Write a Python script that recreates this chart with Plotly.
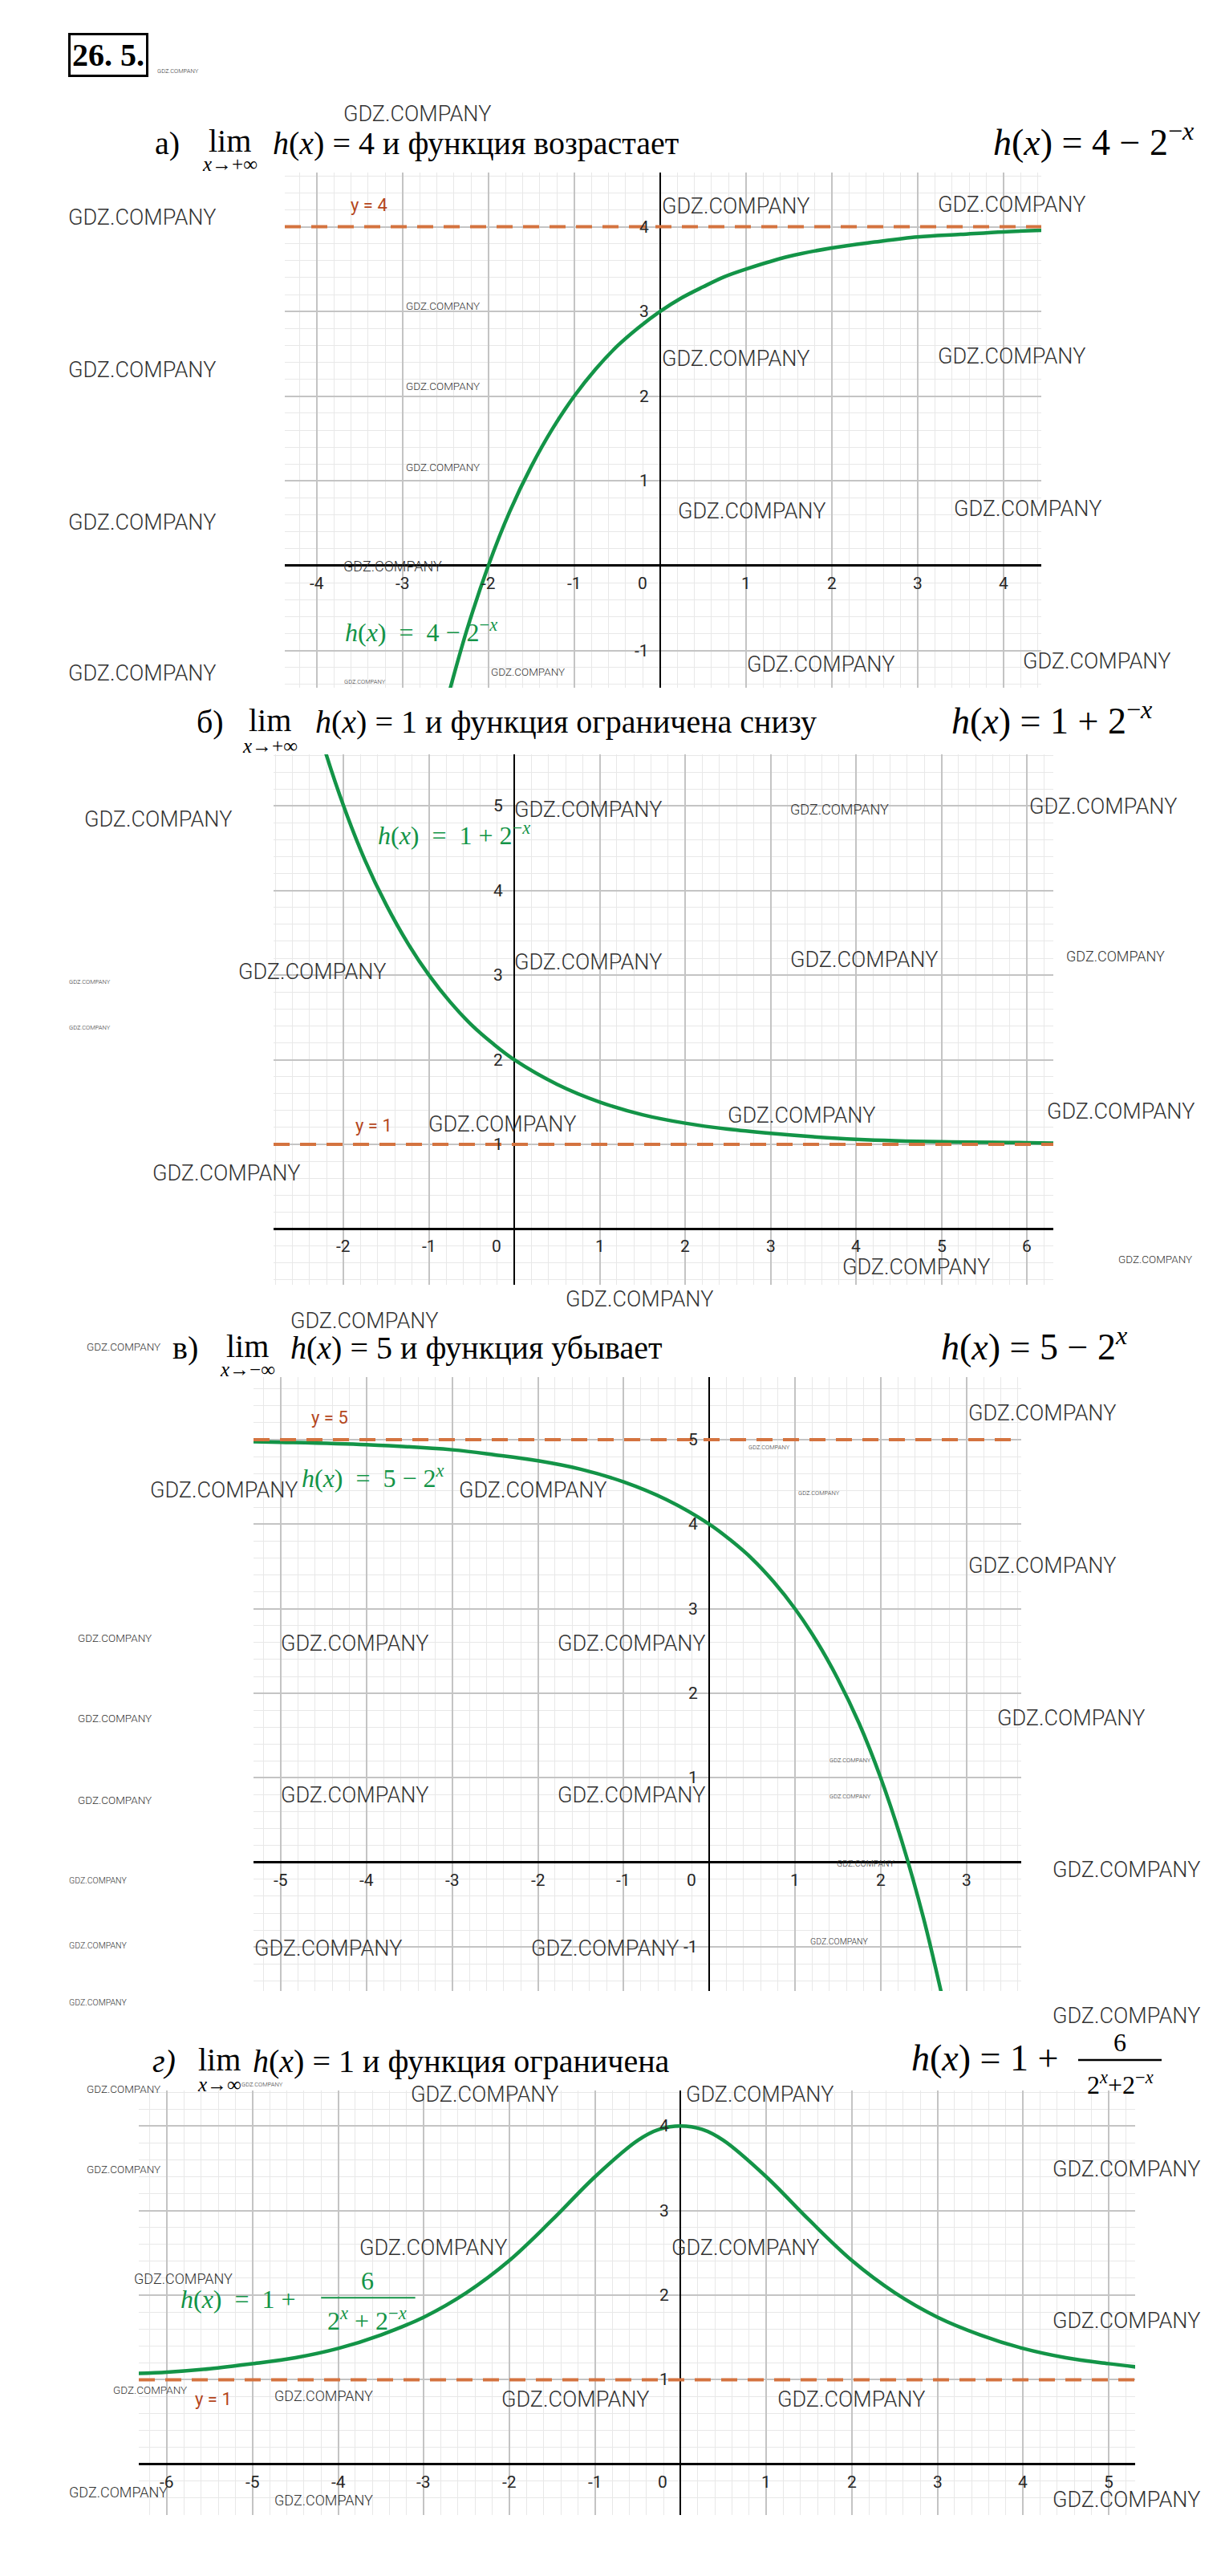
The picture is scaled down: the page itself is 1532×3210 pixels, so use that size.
import plotly.graph_objects as go

W, H = 1532, 3210

# ---------------- data ----------------
a_x = [-2.5, -2.25, -2, -1.75, -1.5, -1.25, -1, -0.75, -0.5, -0.25, 0, 0.25, 0.5, 0.75, 1, 1.5, 2, 2.5, 3, 3.5, 4, 4.5]
a_y = [-1.66, -0.76, 0.0, 0.64, 1.17, 1.62, 2.0, 2.32, 2.59, 2.81, 3.0, 3.16, 3.29, 3.41, 3.5, 3.65, 3.75, 3.82, 3.88, 3.91, 3.94, 3.96]

b_x = [-2.5, -2.25, -2, -1.75, -1.5, -1.25, -1, -0.75, -0.5, -0.25, 0, 0.5, 1, 1.5, 2, 2.5, 3, 3.5, 4, 5, 6, 6.5]
b_y = [6.66, 5.76, 5.0, 4.36, 3.83, 3.38, 3.0, 2.68, 2.41, 2.19, 2.0, 1.71, 1.5, 1.35, 1.25, 1.18, 1.13, 1.09, 1.06, 1.03, 1.02, 1.01]

c_x = [-5.5, -5, -4, -3, -2.5, -2, -1.5, -1, -0.5, 0, 0.25, 0.5, 0.75, 1, 1.25, 1.5, 1.75, 2, 2.25, 2.5, 2.75]
c_y = [4.98, 4.97, 4.94, 4.88, 4.82, 4.75, 4.65, 4.5, 4.29, 4.0, 3.81, 3.59, 3.32, 3.0, 2.62, 2.17, 1.64, 1.0, 0.24, -0.66, -1.73]

d_x = [-6.5, -6, -5.5, -5, -4.5, -4, -3.5, -3, -2.5, -2, -1.5, -1, -0.5, -0.25, 0, 0.25, 0.5, 1, 1.5, 2, 2.5, 3, 3.5, 4, 4.5, 5, 5.5]
d_y = [1.07, 1.09, 1.13, 1.19, 1.26, 1.37, 1.53, 1.74, 2.03, 2.41, 2.89, 3.4, 3.83, 3.96, 4.0, 3.96, 3.83, 3.4, 2.89, 2.41, 2.03, 1.74, 1.53, 1.37, 1.26, 1.19, 1.13]

asymptotes = [4, 1, 5, 1]
asym_labels = ["y = 4", "y = 1", "y = 5", "y = 1"]

a_xticks = [-4, -3, -2, -1, 1, 2, 3, 4]
a_yticks = [-1, 1, 2, 3, 4]
b_xticks = [-2, -1, 1, 2, 3, 4, 5, 6]
b_yticks = [1, 2, 3, 4, 5]
c_xticks = [-5, -4, -3, -2, -1, 1, 2, 3]
c_yticks = [-1, 1, 2, 3, 4, 5]
d_xticks = [-6, -5, -4, -3, -2, -1, 1, 2, 3, 4, 5]
d_yticks = [1, 2, 3, 4]

headings = [
    ("а)", "<i>x</i>→+∞", "<i>h</i>(<i>x</i>) = 4 и функция возрастает",
     "<i>h</i>(<i>x</i>) = 4 − 2<sup>−<i>x</i></sup>"),
    ("б)", "<i>x</i>→+∞", "<i>h</i>(<i>x</i>) = 1 и функция ограничена снизу",
     "<i>h</i>(<i>x</i>) = 1 + 2<sup>−<i>x</i></sup>"),
    ("в)", "<i>x</i>→−∞", "<i>h</i>(<i>x</i>) = 5 и функция убывает",
     "<i>h</i>(<i>x</i>) = 5 − 2<sup><i>x</i></sup>"),
    ("<i>г)</i>", "<i>x</i>→∞", "<i>h</i>(<i>x</i>) = 1 и функция ограничена",
     "<i>h</i>(<i>x</i>) = 1 +"),
]
green_labels = [
    "<i>h</i>(<i>x</i>)  =  4 − 2<sup>−<i>x</i></sup>",
    "<i>h</i>(<i>x</i>)  =  1 + 2<sup>−<i>x</i></sup>",
    "<i>h</i>(<i>x</i>)  =  5 − 2<sup><i>x</i></sup>",
    "<i>h</i>(<i>x</i>)  =  1 +",
]

# ---------------- styles / layout ----------------
GREEN = "#139447"
ORANGE = "#d4733f"
BROWN = "#b4461c"
SERIF = "Liberation Serif, Times New Roman, serif"
SANS = "Roboto, Liberation Sans, sans-serif"


def px(x):
    return x / W


def py(y):
    return 1 - y / H


def paper_text(x, y, text, font, xanchor="center", **kw):
    return dict(x=px(x), y=py(y), xref="paper", yref="paper", text=text, showarrow=False,
                xanchor=xanchor, yanchor="middle", font=font, **kw)


panels = [
    dict(xd=(347, 1290), yd=(207, 849), xr=(-4.37, 4.44), yr=(-1.44, 4.64)),
    dict(xd=(333, 1305), yd=(932, 1593), xr=(-2.82, 6.31), yr=(-0.66, 5.61)),
    dict(xd=(308, 1265), yd=(1708, 2473), xr=(-5.32, 3.64), yr=(-1.52, 5.74)),
    dict(xd=(165, 1407), yd=(2597, 3126), xr=(-6.33, 5.31), yr=(-0.60, 4.42)),
]
curves = [(a_x, a_y), (b_x, b_y), (c_x, c_y), (d_x, d_y)]
ticks = [(a_xticks, a_yticks), (b_xticks, b_yticks), (c_xticks, c_yticks), (d_xticks, d_yticks)]

# heading positions (px): label_x, lim_cx, rest_x, right_x, y, sub_y
head_pos = [
    (183, 278, 330, 1228, 170, 196),
    (235, 328, 383, 1176, 891, 921),
    (205, 300, 352, 1163, 1671, 1698),
    (180, 265, 305, 1126, 2560, 2589),
]
# in-plot labels (data coords): asym label (x, y), green label (x, y)
asym_pos = [(-3.62, 4.26), (-1.88, 1.22), (-4.66, 5.26), (-5.69, 0.77)]
green_pos = [(-3.69, -0.77), (-1.62, 4.67), (-4.78, 4.56), (-5.86, 1.95)]

fig = go.Figure()
layout = dict(width=W, height=H, margin=dict(l=0, r=0, t=0, b=0), autosize=False,
              paper_bgcolor="white", plot_bgcolor="white", showlegend=False)
annotations = []
shapes = []

for i, p in enumerate(panels):
    s = "" if i == 0 else str(i + 1)
    common = dict(tickmode="linear", tick0=0, dtick=1, showgrid=True, gridcolor="#c4c4c4",
                  gridwidth=1.6, zeroline=True, zerolinecolor="black", showticklabels=False,
                  ticks="", showline=False, fixedrange=True,
                  minor=dict(tick0=0, dtick=0.2, showgrid=True, gridcolor="#e8e8e8", gridwidth=1))
    layout["xaxis" + s] = dict(domain=[px(p["xd"][0]), px(p["xd"][1])], range=list(p["xr"]),
                               anchor="y" + s, zerolinewidth=1.6, **common)
    layout["yaxis" + s] = dict(domain=[py(p["yd"][1]), py(p["yd"][0])], range=list(p["yr"]),
                               anchor="x" + s, zerolinewidth=3, **common)
    xr, yr = "x" + s, "y" + s

    # asymptote
    shapes.append(dict(type="line", xref=xr + " domain", yref=yr, x0=0, x1=1,
                       y0=asymptotes[i], y1=asymptotes[i],
                       line=dict(color=ORANGE, width=4, dash="20px,13px")))
    # curve
    cx, cy = curves[i]
    fig.add_trace(go.Scatter(x=cx, y=cy, mode="lines", xaxis=xr, yaxis=yr,
                             line=dict(color=GREEN, width=4.5, shape="spline"),
                             hoverinfo="skip"))
    # tick labels
    xt, yt = ticks[i]
    tf = dict(family=SANS, size=21, color="#262626")
    for t in xt:
        annotations.append(dict(x=t, y=0, xref=xr, yref=yr, text=str(t),
                                showarrow=False, yshift=-22, font=tf))
    annotations.append(dict(x=0, y=0, xref=xr, yref=yr, text="0", showarrow=False,
                            xanchor="right", xshift=-14, yshift=-22, font=tf))
    for t in yt:
        annotations.append(dict(x=0, y=t, xref=xr, yref=yr, text=str(t), showarrow=False,
                                xanchor="right", xshift=-12, font=tf))
    # asymptote label
    annotations.append(dict(x=asym_pos[i][0], y=asym_pos[i][1], xref=xr, yref=yr,
                            text=asym_labels[i], showarrow=False, xanchor="left",
                            font=dict(family=SANS, size=22, color=BROWN)))
    # green label
    annotations.append(dict(x=green_pos[i][0], y=green_pos[i][1], xref=xr, yref=yr,
                            text=green_labels[i], showarrow=False, xanchor="left",
                            font=dict(family=SERIF, size=32, color=GREEN)))

    # heading
    lx, lc, rx, rgx, hy, sy = head_pos[i]
    hf = dict(family=SERIF, size=40, color="black")
    annotations.append(paper_text(lx, hy, headings[i][0], hf, xanchor="left"))
    annotations.append(paper_text(lc, hy - 2, "lim", hf))
    annotations.append(paper_text(lc, sy, headings[i][1], dict(family=SERIF, size=25, color="black")))
    annotations.append(paper_text(rx, hy, headings[i][2], hf, xanchor="left"))
    annotations.append(paper_text(rgx, hy - 4, headings[i][3],
                                  dict(family=SERIF, size=46, color="black"), xanchor="left"))

# fraction in heading г
annotations.append(paper_text(1388, 2537, "6", dict(family=SERIF, size=32, color="black")))
annotations.append(paper_text(1388, 2588, "2<sup><i>x</i></sup>+2<sup>−<i>x</i></sup>",
                              dict(family=SERIF, size=32, color="black")))
shapes.append(dict(type="line", xref="paper", yref="paper", x0=px(1336), x1=px(1440),
                   y0=py(2559), y1=py(2559), line=dict(color="black", width=2.5)))
# fraction in green label г
annotations.append(dict(x=-3.66, y=2.17, xref="x4", yref="y4", text="6", showarrow=False,
                        font=dict(family=SERIF, size=32, color=GREEN)))
annotations.append(dict(x=-3.66, y=1.72, xref="x4", yref="y4",
                        text="2<sup><i>x</i></sup> + 2<sup>−<i>x</i></sup>", showarrow=False,
                        font=dict(family=SERIF, size=32, color=GREEN)))
shapes.append(dict(type="line", xref="x4", yref="y4", x0=-4.2, x1=-3.1, y0=1.97, y1=1.97,
                   line=dict(color=GREEN, width=2)))

# problem number box
annotations.append(paper_text(127, 60, "<b>26. 5.</b>", dict(family=SERIF, size=40, color="black"),
                              bordercolor="black", borderwidth=3, borderpad=2))

# watermarks (decoration)
WM_SIZE = {"L": 27, "M": 18, "S": 13.5, "X": 10.5, "T": 7.5}
watermarks = [
    (214, 81, "T"), (512, 134, "L"), (169, 263, "L"), (909, 249, "L"), (1253, 247, "L"),
    (544, 373, "S"), (169, 453, "L"), (909, 439, "L"), (1253, 436, "L"), (544, 473, "S"),
    (544, 574, "S"), (169, 643, "L"), (929, 629, "L"), (1273, 626, "L"), (481, 697, "M"),
    (169, 831, "L"), (650, 829, "S"), (447, 842, "T"), (1015, 820, "L"), (1359, 816, "L"),
    (189, 1013, "L"), (725, 1001, "L"), (1038, 1000, "M"), (1367, 997, "L"), (381, 1203, "L"),
    (104, 1216, "T"), (104, 1273, "T"), (725, 1191, "L"), (1069, 1188, "L"), (1382, 1183, "M"),
    (991, 1382, "L"), (1389, 1377, "L"), (618, 1393, "L"), (274, 1454, "L"), (1134, 1571, "L"),
    (1432, 1561, "S"), (789, 1611, "L"), (446, 1638, "L"), (146, 1670, "S"), (1291, 1753, "L"),
    (951, 1795, "T"), (271, 1849, "L"), (656, 1849, "L"), (1013, 1852, "T"), (1291, 1943, "L"),
    (135, 2033, "S"), (434, 2040, "L"), (779, 2040, "L"), (135, 2133, "S"), (1327, 2133, "L"),
    (1052, 2185, "T"), (1052, 2230, "T"), (135, 2235, "S"), (434, 2229, "L"), (779, 2229, "L"),
    (1071, 2314, "X"), (114, 2335, "X"), (1396, 2322, "L"), (114, 2416, "X"), (401, 2420, "L"),
    (746, 2420, "L"), (1038, 2411, "X"), (114, 2487, "X"), (1396, 2504, "L"), (319, 2589, "T"),
    (146, 2595, "S"), (596, 2602, "L"), (939, 2602, "L"), (146, 2695, "S"), (1396, 2695, "L"),
    (532, 2793, "L"), (921, 2793, "L"), (220, 2831, "M"), (1396, 2884, "L"), (179, 2970, "S"),
    (395, 2977, "M"), (709, 2982, "L"), (1053, 2982, "L"), (139, 3097, "M"), (395, 3107, "M"),
    (1396, 3107, "L"),
]
for wx, wy, sz in watermarks:
    annotations.append(paper_text(wx, wy, "GDZ.COMPANY",
                                  dict(family=SANS, size=WM_SIZE[sz], color="#333333", weight=300)))

layout["annotations"] = annotations
layout["shapes"] = shapes
fig.update_layout(**layout)
fig.write_html("out.html")
